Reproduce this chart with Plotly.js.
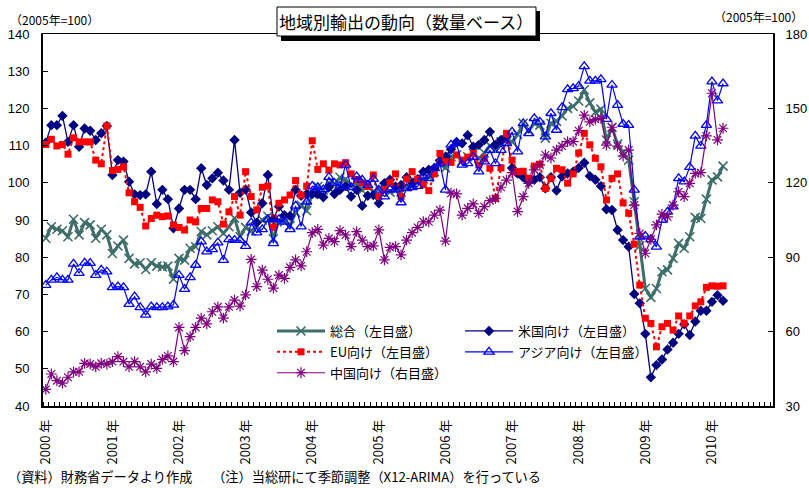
<!DOCTYPE html>
<html><head><meta charset="utf-8">
<script src="https://cdn.plot.ly/plotly-3.0.1.min.js"></script>
<style>html,body{margin:0;padding:0;background:#fff}#chart{width:809px;height:488px}</style>
</head><body><div id="chart"></div>
<script>
// ---- data (monthly, Jan 2000 - Mar 2010) ----
const yearLabels = ['2000 年','2001 年','2002 年','2003 年','2004 年','2005 年','2006 年','2007 年','2008 年','2009 年','2010 年'];
const seriesNames = ['総合（左目盛）','米国向け（左目盛）','EU向け（左目盛）','アジア向け（左目盛）','中国向け（右目盛）'];

const total = [
85.1,88.2,87.5,87.1,85.5,90.2,86.0,89.3,88.7,85.1,87.5,86.0,
81.0,83.0,84.6,79.7,78.2,78.5,76.7,78.5,77.6,77.4,77.6,74.1,
79.7,79.2,82.4,82.8,86.9,86.0,87.1,88.2,86.4,88.2,90.5,85.5,
88.0,87.0,88.5,90.0,91.0,85.0,90.0,89.5,88.5,92.0,94.0,92.5,
97.0,99.0,98.0,100.0,99.5,101.5,101.0,99.0,100.0,98.0,99.5,97.5,
98.5,99.0,97.5,98.0,97.5,99.0,99.5,100.0,101.0,101.5,103.0,105.0,
104.0,107.0,107.5,106.0,107.0,108.0,106.5,108.0,110.0,109.0,111.0,111.5,
111.0,113.0,116.0,114.0,116.0,115.5,112.0,116.0,116.5,118.0,120.0,120.5,
122.0,125.0,121.5,119.0,119.8,111.5,114.9,110.4,108.1,106.1,94.9,83.0,
71.6,69.2,71.6,76.1,76.6,79.7,83.7,82.4,85.5,90.7,90.4,95.6,
100.8,101.6,104.5];

const us = [
110.8,115.5,115.5,118.0,111.0,115.5,109.7,114.6,114.0,111.5,113.3,115.3,
102.1,106.1,105.7,100.3,96.9,96.7,96.9,103.0,94.3,98.1,95.6,87.8,
93.1,98.1,98.1,95.6,103.9,99.4,101.2,102.7,100.6,98.1,111.5,97.3,
98.2,92.0,89.3,94.5,102.1,90.2,93.6,91.3,91.1,98.1,96.5,97.0,
97.0,97.0,96.1,98.8,97.0,98.1,99.1,96.3,98.1,93.8,96.5,96.7,
94.5,99.9,100.8,99.0,99.4,101.5,100.0,101.0,103.0,103.5,104.0,106.0,
107.0,109.0,111.0,110.6,112.8,109.7,110.2,111.5,113.7,110.2,111.5,112.4,
104.0,102.5,101.5,100.3,100.8,101.5,98.5,101.5,97.9,101.7,102.5,103.0,
104.0,105.4,101.8,100.8,99.1,92.9,92.7,87.3,84.6,82.8,70.1,67.6,
59.4,47.7,51.0,52.5,55.2,57.0,59.4,62.0,59.1,62.7,65.6,65.6,
68.0,69.8,68.3];

const eu = [
110.3,111.7,109.9,110.3,107.7,112.1,111.0,111.0,111.0,106.1,105.1,115.3,
103.3,103.6,104.3,97.3,94.9,93.4,88.4,90.4,91.3,90.9,91.1,88.7,
88.0,87.3,90.0,89.5,93.1,93.1,95.4,94.9,88.9,92.2,96.3,91.3,
103.0,96.3,92.7,98.8,99.1,88.0,94.5,95.4,96.7,100.6,96.7,99.1,
111.3,103.6,105.1,103.4,105.1,104.8,105.4,102.4,100.9,100.0,99.0,102.1,
96.3,98.2,100.0,102.4,96.3,101.0,103.0,101.0,99.5,97.9,102.4,107.9,
105.7,105.5,107.5,106.1,106.9,107.9,104.8,106.6,103.9,95.8,104.0,113.3,
106.1,103.0,103.1,101.2,104.5,105.0,98.5,101.2,103.9,103.5,99.9,102.4,
108.0,113.3,110.2,106.6,104.3,95.4,101.2,102.4,94.6,91.8,83.5,72.5,
63.6,62.2,55.9,61.3,62.2,60.4,64.2,62.2,64.2,66.9,68.0,71.9,
72.3,72.2,72.3];

const asia = [
72.5,73.9,74.6,73.9,73.9,78.2,75.7,78.5,78.4,75.2,76.6,76.1,
71.9,72.1,71.9,67.4,69.4,66.5,64.5,66.7,66.5,66.5,66.7,67.2,
75.2,71.4,74.6,77.9,84.2,81.5,82.1,83.9,79.2,84.8,84.6,84.6,
83.0,89.3,86.6,87.5,90.2,83.7,90.2,89.5,87.5,93.8,88.2,94.9,
99.1,98.8,98.2,101.5,99.9,99.1,104.8,98.8,101.7,100.8,99.4,101.0,
98.1,96.3,98.2,98.2,94.7,98.5,98.8,99.1,101.6,101.2,103.9,105.2,
98.1,110.2,110.6,104.8,105.2,106.9,103.0,105.7,108.8,105.2,108.8,110.6,
113.7,108.4,116.0,113.3,117.3,116.4,112.4,118.7,114.2,120.3,125.1,125.4,
126.0,131.3,127.4,127.4,127.8,117.1,126.3,120.9,115.8,115.5,98.1,85.5,
85.7,84.8,82.8,90.0,92.2,93.6,101.2,100.3,104.2,112.6,109.9,115.5,
127.2,122.1,126.7];

const china = [
36.7,42.9,40.2,39.2,41.6,43.8,43.8,47.2,46.9,45.8,47.2,46.9,
47.9,49.9,47.9,45.8,47.9,45.8,43.8,46.9,45.2,48.8,50.2,47.9,
61.7,52.3,58.0,61.7,65.4,63.1,68.0,70.0,65.4,70.0,72.7,70.3,
74.8,89.1,78.1,84.8,81.1,77.5,82.8,81.5,85.9,88.9,86.5,92.2,
99.9,101.2,94.9,97.6,96.3,100.7,99.0,94.3,100.3,96.9,94.3,94.6,
101.0,88.9,94.0,94.3,90.9,96.9,99.9,102.0,104.3,104.3,107.0,109.0,
96.5,115.8,115.5,107.0,109.7,111.5,107.7,110.4,112.8,113.7,118.2,121.1,
124.1,108.4,114.4,119.8,125.2,127.2,131.2,130.0,133.2,134.8,136.6,136.6,
141.0,147.3,144.6,145.6,146.0,135.2,142.4,134.8,130.8,133.2,111.0,99.6,
91.6,97.2,103.0,107.4,106.3,111.0,116.4,114.4,119.8,123.8,124.1,138.9,
156.1,137.3,142.0];

// ---- geometry helpers (pixel -> paper) ----
const W = 809, H = 488, L = 43, R = 773, T = 34, B = 406;
const px = x => (x - L) / (R - L);
const py = y => (B - y) / (B - T);
const months = total.map((_, i) => i);
const yearTicks = yearLabels.map((_, k) => k * 12);
const CJK = '"Noto Sans CJK JP", "Noto Sans", sans-serif';

const traces = [
  {y: total, name: seriesNames[0], color: '#3E6E69', sym: 'x-thin-open', size: 9, lw: 3, mlw: 1.6, dash: 'solid', legend: 'legend', yaxis: 'y'},
  {y: us,    name: seriesNames[1], color: '#000080', sym: 'diamond',     size: 8, lw: 1.3, mlw: 0, dash: 'solid', legend: 'legend2', yaxis: 'y'},
  {y: eu,    name: seriesNames[2], color: '#FF0000', sym: 'square',      size: 7, lw: 2, mlw: 0, dash: 'dot', legend: 'legend', yaxis: 'y'},
  {y: asia,  name: seriesNames[3], color: '#0000FF', sym: 'triangle-up-open', size: 9, lw: 1.2, mlw: 1.3, dash: 'solid', legend: 'legend2', yaxis: 'y'},
  {y: china, name: seriesNames[4], color: '#800080', sym: 'asterisk-open', size: 9, lw: 1.2, mlw: 1.2, dash: 'solid', legend: 'legend', yaxis: 'y2'}
].map((s, k) => ({
  type: 'scatter', mode: 'lines+markers', x: months, y: s.y, name: s.name,
  yaxis: s.yaxis, legend: s.legend, legendgroup: 'g' + k,
  line: {color: s.color, width: s.lw, dash: s.dash},
  marker: {symbol: s.sym, size: s.size, color: s.color, line: {color: s.color, width: s.mlw}},
  hoverinfo: 'skip'
}));

const legendCommon = {
  font: {family: CJK, size: 13, color: '#000'}, bgcolor: 'rgba(0,0,0,0)', borderwidth: 0,
  orientation: 'v', xanchor: 'left', yanchor: 'top', itemwidth: 48, tracegroupgap: 1,
  itemclick: false, itemdoubleclick: false
};

const layout = {
  width: W, height: H,
  margin: {l: L, r: W - R, t: T, b: H - B, pad: 0},
  paper_bgcolor: '#fff', plot_bgcolor: '#fff',
  font: {family: CJK, size: 12, color: '#000'},
  showlegend: true,
  legend: Object.assign({}, legendCommon, {x: px(272), y: py(316)}),
  legend2: Object.assign({}, legendCommon, {x: px(460), y: py(316)}),
  xaxis: {
    range: [-0.5, 131], showgrid: false, zeroline: false,
    showline: true, linecolor: '#000', linewidth: 1.5, mirror: true,
    tickmode: 'array', tickvals: yearTicks, ticktext: yearLabels, ticks: '',
    tickangle: -90, tickfont: {family: CJK, size: 13, color: '#000'}, ticklabelstandoff: 7,
    minor: {tickmode: 'linear', tick0: -0.5, dtick: 1, ticks: 'inside', ticklen: 4, tickcolor: '#000', tickwidth: 1, showgrid: false}
  },
  yaxis: {
    range: [40, 140], dtick: 10, tick0: 40, showgrid: false, zeroline: false,
    showline: true, linecolor: '#000', linewidth: 2,
    ticks: 'inside', ticklen: 5, tickcolor: '#000', tickwidth: 1,
    tickfont: {family: '"Liberation Sans", Arial, sans-serif', size: 13, color: '#000'}, ticklabelstandoff: 9
  },
  yaxis2: {
    range: [30, 180], dtick: 30, tick0: 30, overlaying: 'y', side: 'right', showgrid: false, zeroline: false,
    showline: true, linecolor: '#000', linewidth: 2,
    ticks: 'inside', ticklen: 5, tickcolor: '#000', tickwidth: 1,
    tickfont: {family: '"Liberation Sans", Arial, sans-serif', size: 13, color: '#000'}, ticklabelstandoff: 8
  },
  shapes: [
    {type: 'rect', xref: 'paper', yref: 'paper', x0: px(281), x1: px(540), y0: py(41), y1: py(11), fillcolor: '#000', line: {width: 0}, layer: 'above'},
    {type: 'rect', xref: 'paper', yref: 'paper', x0: px(277), x1: px(536), y0: py(36), y1: py(7), fillcolor: '#fff', line: {color: '#000', width: 1}, layer: 'above'}
  ],
  annotations: [
    {xref: 'paper', yref: 'paper', x: px(406), y: py(21.5), text: '地域別輸出の動向（数量ベース）', showarrow: false, xanchor: 'center', yanchor: 'middle', font: {family: CJK, size: 17, color: '#000'}},
    {xref: 'paper', yref: 'paper', x: px(8), y: py(19), text: '（2005年=100）', showarrow: false, xanchor: 'left', yanchor: 'middle', font: {family: CJK, size: 12, color: '#000'}},
    {xref: 'paper', yref: 'paper', x: px(805), y: py(16), text: '（2005年=100）', showarrow: false, xanchor: 'right', yanchor: 'middle', font: {family: CJK, size: 12, color: '#000'}},
    {xref: 'paper', yref: 'paper', x: px(6), y: py(476), text: '（資料）財務省データより作成　　（注）当総研にて季節調整（X12-ARIMA）を行っている', showarrow: false, xanchor: 'left', yanchor: 'middle', font: {family: CJK, size: 13.2, color: '#000'}}
  ]
};

Plotly.newPlot('chart', traces, layout, {staticPlot: true, displayModeBar: false});
</script>
</body></html>
